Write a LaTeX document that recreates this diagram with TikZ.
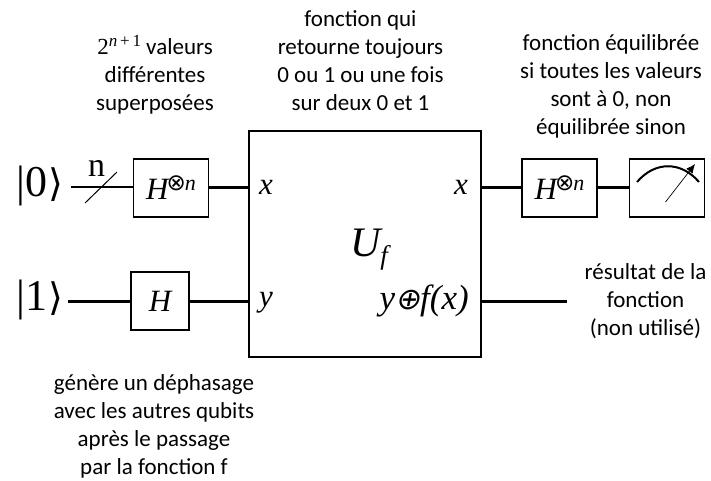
\documentclass[tikz,border=0pt]{standalone}
\usepackage{fontspec}
\setmainfont{Carlito}
\newfontfamily\tnr{Liberation Serif}
\newfontfamily\djv{DejaVu Sans}
\newfontfamily\djvs[FakeSlant=0.2]{DejaVu Sans}
\usetikzlibrary{arrows.meta}
\tikzset{
  gate/.style={draw=black,line width=1.7pt,minimum width=75pt,minimum height=58pt,inner sep=0pt,outer sep=0pt},
  wire/.style={draw=black,line width=2.2pt},
  note/.style={align=center,font=\fontsize{23}{28}\selectfont,inner sep=0pt},
  lbl/.style={font=\tnr\itshape\fontsize{31}{31}\selectfont,inner sep=0pt},
  ket/.style={font=\tnr\fontsize{48}{48}\selectfont,inner sep=0pt}
}
\newcommand{\Hn}{\tnr\itshape\fontsize{31}{31}\selectfont H\hspace{-2pt}\raisebox{9pt}{\fontsize{23}{23}\selectfont\djv\upshape ⊗\hspace{-1pt}\tnr\itshape\fontsize{22}{22}\selectfont n}\hspace{3pt}}
\newcommand{\Ket}[1]{{\fontsize{44}{44}\selectfont #1}\hspace{1pt}{\djv\fontsize{38}{38}\selectfont ⟩}}
\begin{document}
\begin{tikzpicture}[x=1pt,y=-1pt]
\useasboundingbox (0,0) rectangle (711,481);
\node[gate,minimum width=232pt,minimum height=226pt] (U) at (365,244) {};
\node[gate] (H1) at (171,188) {\Hn};
\node[gate,minimum width=58pt] (H2) at (160,301) {\tnr\itshape\fontsize{31}{31}\selectfont H};
\node[gate] (H3) at (559.5,188) {\Hn};
\node[gate] (M) at (667,188) {};
\node[ket,anchor=center] (k0) at (40,186) {\Ket{|0}};
\node[ket,anchor=center] (k1) at (40,300) {\Ket{|1}};
\coordinate (w0) at (71,187);
\coordinate (w1) at (68,301.5);
\coordinate (out) at (567,301.5);
\coordinate (Ux) at (249,187.5);
\coordinate (Uy) at (249,301.5);
\coordinate (Ux2) at (481,187.5);
\coordinate (Uy2) at (481,301.5);
\draw[wire,line width=1.7pt] (w0) -- (H1.west|-w0);
\draw[wire] (H1.east|-Ux) -- (Ux);
\draw[wire] (w1) -- (H2.west|-w1);
\draw[wire] (H2.east|-Uy) -- (Uy);
\draw[wire] (Ux2) -- (H3.west|-Ux2);
\draw[wire] (H3.east|-Ux2) -- (M.west|-Ux2);
\draw[wire] (Uy2) -- (out);
\coordinate (s1) at (85,203);
\coordinate (s2) at (117,172);
\draw[line width=1pt] (s1) -- (s2);
\node[font=\tnr\fontsize{34}{34}\selectfont,inner sep=0pt] (nn) at (96.5,168) {n};
\node[lbl] (lx) at (266,187) {x};
\node[lbl] (ly) at (266,303) {y};
\node[lbl] (rx) at (461,187) {x};
\node[lbl,anchor=east,font=\tnr\itshape\fontsize{35}{35}\selectfont] (ry) at (469,301) {y{\djvs\upshape\fontsize{30}{30}\selectfont ⊕}f(x)};
\node[font=\tnr\itshape\fontsize{42}{42}\selectfont,inner sep=0pt] (uf) at (369,250) {U\raisebox{-8pt}{\fontsize{27}{27}\selectfont f}};
\coordinate (a1) at (637,182);
\coordinate (a2) at (699,182);
\coordinate (p1) at (665.5,202);
\coordinate (p2) at (695,164);
\draw[line width=2pt] (a1) .. controls (655,161) and (681,161) .. (a2);
\draw[line width=.7pt,-{Latex[length=9pt,width=8pt]}] (p1) -- (p2);
\node[note] (t1) at (155,75) {{\tnr 2\raisebox{8pt}{\fontsize{17}{17}\selectfont\itshape n\upshape\,+\,1}} valeurs\\différentes\\superposées};
\node[note] (t2) at (360.5,61) {fonction qui\\retourne toujours\\0 ou 1 ou une fois\\sur deux 0 et 1};
\node[note] (t3) at (611,86.5) {fonction équilibrée\\si toutes les valeurs\\sont à 0, non\\équilibrée sinon};
\node[note] (t4) at (645.5,301) {résultat de la\\fonction\\(non utilisé)};
\node[note] (t5) at (154,426.5) {génère un déphasage\\avec les autres qubits\\après le passage\\par la fonction f};
\end{tikzpicture}
\end{document}
